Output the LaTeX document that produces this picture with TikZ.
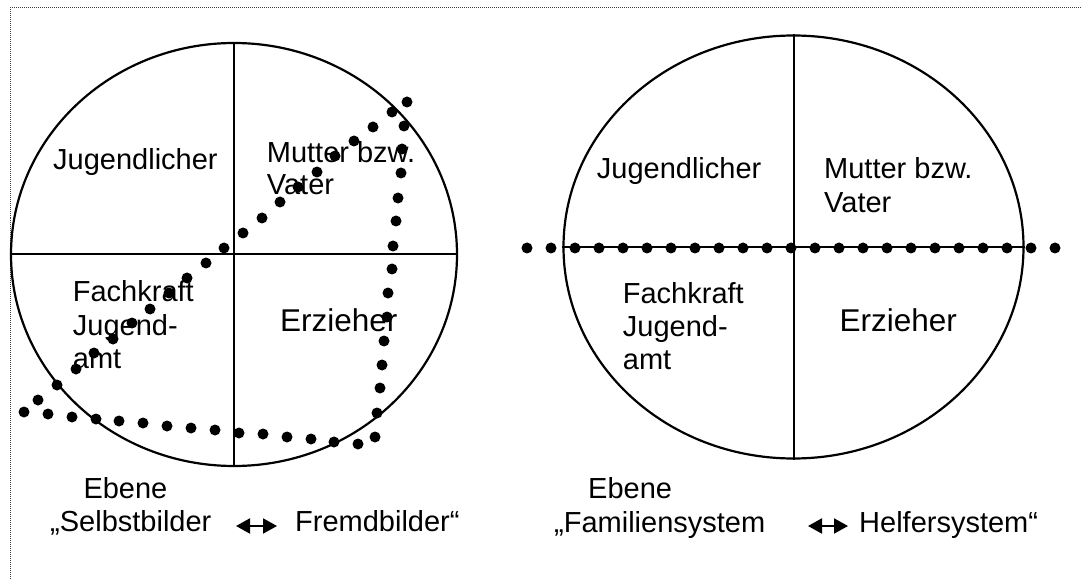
\documentclass[tikz,border=0pt]{standalone}
\usepackage{fontspec}
\setmainfont{Liberation Sans}
\usetikzlibrary{shapes.geometric,arrows.meta}
\tikzset{
  lbl/.style={anchor=base west, inner sep=0pt, font=\fontsize{29}{33}\selectfont},
  lblbig/.style={anchor=base west, inner sep=0pt, font=\fontsize{31.5}{35}\selectfont},
  oval/.style={ellipse, draw, line width=2.2pt, inner sep=0pt},
  cross/.style={line width=2pt},
  border/.style={draw=black!75, line width=1pt, dash pattern=on 1pt off 1pt},
  dbl/.style={line width=2pt, {Triangle[length=14pt,width=15pt]}-{Triangle[length=14pt,width=15pt]}},
}
\begin{document}
\begin{tikzpicture}[x=1pt,y=-1pt]
\useasboundingbox (0,0) rectangle (1082,580);
\draw[border] (10,7.5) rectangle (1100,600);

% left ellipse
\node[oval, minimum width=446pt, minimum height=423pt] (L) at (234,254.5) {};
\draw[cross] (L.north) -- (L.south);
\draw[cross] (L.west) -- (L.east);

\node[lbl] (lj) at (53,170) {Jugendlicher};
\node[lbl] (lm1) at (266.7,162.3) {Mutter bzw.};
\node[lbl] (lm2) at (266.7,194.3) {Vater};
\node[lbl] (lf1) at (72.7,301.7) {Fachkraft};
\node[lbl] (lf2) at (72.7,335) {Jugend-};
\node[lbl] (lf3) at (72.7,368.3) {amt};
\node[lblbig] (le) at (280,331.7) {Erzieher};

\foreach \p in {(38,400),(57,385),(76,369),(94,353),(113,339),(132,323),(150,309),(169,293),(187,278),(206,263),(224,248),(243,233),(262,218),(280,202),(298,187),(317,172),(335,156),(354,141),(373,127),(392,112),(407,102),
(404,126),(402,149),(401,173),(398,198),(396,221),(393,246),(392,269),(388,293),(387,317),(384,341),(382,365),(380,388),(377,413),(375,437),(358,444),
(334,442),(311,439),(287,437),(263,434),(239,433),(215,430),(191,428),(167,426),(143,423),(119,421),(96,419),(72,417),(48,414),(24,412)}
  \fill \p circle[radius=5.5pt];

% right ellipse
\node[oval, minimum width=460pt, minimum height=423pt] (R) at (793.5,247) {};
\draw[cross] (R.north) -- (R.south);
\draw[cross] (R.west) -- (R.east);

\node[lbl] (rj) at (596.7,178.3) {Jugendlicher};
\node[lbl] (rm1) at (824,178.3) {Mutter bzw.};
\node[lbl] (rm2) at (824,212.3) {Vater};
\node[lbl] (rf1) at (622.7,303.3) {Fachkraft};
\node[lbl] (rf2) at (622.7,336) {Jugend-};
\node[lbl] (rf3) at (622.7,369.3) {amt};
\node[lblbig] (re) at (839.3,331.7) {Erzieher};

\foreach \i in {0,...,22}
  \fill (527+24*\i,248) circle[radius=5.5pt];

% bottom labels
\node[lbl] (le1) at (83.3,498.3) {Ebene};
\node[lbl] (ls) at (50,531.7) {„Selbstbilder};
\node[lbl] (lfb) at (295,531.7) {Fremdbilder“};
\coordinate (la1) at (236,526);
\coordinate (la2) at (277,526);
\draw[dbl] (la1) -- (la2);

\node[lbl] (re1) at (588,498.3) {Ebene};
\node[lbl] (rs) at (554,532) {„Familiensystem};
\node[lbl] (rh) at (859,532) {Helfersystem“};
\coordinate (ra1) at (808,526);
\coordinate (ra2) at (848,526);
\draw[dbl] (ra1) -- (ra2);
\end{tikzpicture}
\end{document}
